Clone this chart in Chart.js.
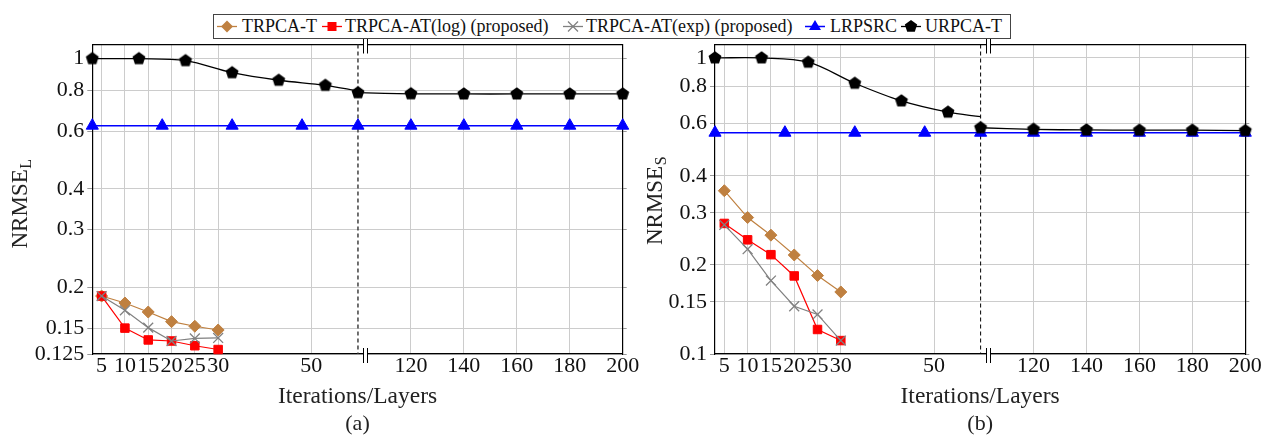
<!DOCTYPE html>
<html>
<head>
<meta charset="utf-8">
<script src="https://cdn.jsdelivr.net/npm/chart.js@4.4.1/dist/chart.umd.min.js"></script>
<style>
  html, body { margin:0; padding:0; background:#fff; }
  #wrap { position:relative; width:1261px; height:436px; overflow:hidden; background:#fff;
          font-family:"Liberation Serif","Times New Roman",serif; color:#111; }
  canvas { position:absolute; top:0; }
  #ca { left:0; }
  #cb { left:630px; }
  #legend { position:absolute; left:213px; top:14px; width:798px; height:25px; box-sizing:border-box;
            border:1px solid #444; background:#fff; z-index:5; }
  #legend .mk { position:absolute; top:0; width:24px; height:23px; }
  #legend .tx { position:absolute; top:0; height:23px; line-height:23px; font-size:18px; white-space:nowrap; color:#111; }
</style>
</head>
<body>
<div id="wrap">
  <canvas id="ca" width="648" height="436"></canvas>
  <canvas id="cb" width="631" height="436"></canvas>
  <div id="legend"></div>
</div>
<script>
// ---------------- data ----------------
const seriesNames = ['TRPCA-T', 'TRPCA-AT(log) (proposed)', 'TRPCA-AT(exp) (proposed)', 'LRPSRC', 'URPCA-T'];
const xTickValues = [5, 10, 15, 20, 25, 30, 50, 120, 140, 160, 180, 200];
const iterations  = [5, 10, 15, 20, 25, 30];
const lrpsrcX     = [3, 18, 33, 48, 100, 120, 140, 160, 180, 200];
const urpcaLeftX  = [3, 13, 23, 33, 43, 53, 60];
const urpcaRightX = [100, 120, 140, 160, 180, 200];
const yTicksA = [0.125, 0.15, 0.2, 0.3, 0.4, 0.6, 0.8, 1];
const yTicksB = [0.1, 0.15, 0.2, 0.3, 0.4, 0.6, 0.8, 1];

// panel (a): NRMSE_L
const a_trpcaT     = [0.188, 0.179, 0.168, 0.157, 0.152, 0.148];
const a_atLog      = [0.188, 0.150, 0.138, 0.137, 0.1325, 0.129];
const a_atExp      = [0.188, 0.170, 0.1505, 0.137, 0.1395, 0.140];
const a_lrpsrc     = [0.624, 0.624, 0.624, 0.624, 0.624, 0.624, 0.624, 0.624, 0.624, 0.624];
const a_urpcaLeft  = [1.0, 1.0, 0.986, 0.906, 0.859, 0.829, 0.797];
const a_urpcaRight = [0.787, 0.781, 0.780, 0.780, 0.780, 0.780];

// panel (b): NRMSE_S
const b_trpcaT     = [0.356, 0.289, 0.252, 0.216, 0.184, 0.162];
const b_atLog      = [0.276, 0.243, 0.2165, 0.1835, 0.121, 0.111];
const b_atExp      = [0.273, 0.226, 0.177, 0.145, 0.136, 0.111];
const b_lrpsrc     = [0.559, 0.559, 0.559, 0.559, 0.559, 0.559, 0.559, 0.559, 0.559, 0.559];
const b_urpcaLeft  = [1.0, 1.0, 0.967, 0.821, 0.716, 0.656, 0.633];
const b_urpcaRight = [0.581, 0.574, 0.571, 0.570, 0.570, 0.568];

// ---------------- broken x axis mapping ----------------
const BREAK_FROM = 60, BREAK_TO = 100, RIGHT_FACTOR = 0.568;
function vx(x) { return x <= BREAK_FROM ? x : BREAK_FROM + (x - BREAK_TO) * RIGHT_FACTOR; }
const X_MIN = 3, X_MAX = vx(200);

const FONT = '"Liberation Serif", "Times New Roman", serif';
const BROWN = 'rgb(191,128,64)', RED = '#ff0000', GRAY = '#808080', BLUE = '#0000ff', BLACK = '#000000';
const GRID = '#cccccc';
Chart.defaults.font.family = FONT;

function makePentagon(r) {
  const s = 16;
  const c = document.createElement('canvas');
  c.width = s; c.height = s;
  const g = c.getContext('2d');
  g.fillStyle = '#000';
  g.beginPath();
  for (let k = 0; k < 5; k++) {
    const a = -Math.PI / 2 + k * 2 * Math.PI / 5;
    const px = s / 2 + r * Math.cos(a), py = s / 2 + r * Math.sin(a);
    if (k) g.lineTo(px, py); else g.moveTo(px, py);
  }
  g.closePath(); g.fill();
  return c;
}
const pentagon = makePentagon(6.8);

function pts(xs, ys) { return xs.map((x, i) => ({ x: vx(x), y: ys[i] })); }

const decoPlugin = {
  id: 'deco',
  beforeDatasetsDraw(chart, args, o) {
    const ctx = chart.ctx, a = chart.chartArea;
    const xs = chart.scales.x.getPixelForValue(vx(BREAK_FROM));
    ctx.save();
    ctx.strokeStyle = o.dashColor; ctx.lineWidth = o.dashWidth;
    ctx.setLineDash([4, 3]);
    ctx.beginPath(); ctx.moveTo(xs, a.top); ctx.lineTo(xs, a.bottom); ctx.stroke();
    ctx.restore();
  },
  afterDraw(chart, args, o) {
    const ctx = chart.ctx, a = chart.chartArea;
    const xs = chart.scales.x.getPixelForValue(vx(BREAK_FROM));
    ctx.save();
    [a.top, a.bottom].forEach(yy => {
      ctx.fillStyle = '#fff';
      ctx.fillRect(Math.round(xs + 5) + 1, yy - 2, 3, 4);
      ctx.strokeStyle = '#000'; ctx.lineWidth = 1;
      [5, 9].forEach(dx => {
        const px = Math.round(xs + dx) + 0.5;
        ctx.beginPath(); ctx.moveTo(px, yy - 6); ctx.lineTo(px, yy + 9); ctx.stroke();
      });
    });
    // y-axis title with subscript
    ctx.translate(o.titleX, o.titleY);
    ctx.rotate(-Math.PI / 2);
    ctx.fillStyle = '#222';
    ctx.textBaseline = 'alphabetic';
    ctx.font = '23px ' + FONT;
    const w1 = ctx.measureText('NRMSE').width;
    ctx.font = '16px ' + FONT;
    const w2 = ctx.measureText(o.sub).width;
    const x0 = -(w1 + w2) / 2;
    ctx.font = '23px ' + FONT;
    ctx.fillText('NRMSE', x0, 0);
    ctx.font = '16px ' + FONT;
    ctx.fillText(o.sub, x0 + w1 + 0.5, 4);
    ctx.restore();
  }
};

function makePanel(id, p) {
  const urpcaData = pts(urpcaLeftX, p.urpcaLeft)
    .concat([{ x: vx(BREAK_FROM), y: null }], pts(urpcaRightX, p.urpcaRight));
  const urpcaRadius = urpcaData.map((d, i) => (i === urpcaLeftX.length - 1 || d.y === null) ? 0 : 7);
  const common = { clip: false, borderWidth: 1.2, pointBorderWidth: 1, tension: 0, spanGaps: false };
  const datasets = [
    { ...common, label: seriesNames[0], data: pts(iterations, p.trpcaT), borderColor: BROWN, backgroundColor: BROWN,
      pointStyle: 'rectRot', pointRadius: 6, order: 5 },
    { ...common, label: seriesNames[1], data: pts(iterations, p.atLog), borderColor: RED, backgroundColor: RED,
      pointStyle: 'rect', pointRadius: 6, order: 4 },
    { ...common, label: seriesNames[2], data: pts(iterations, p.atExp), borderColor: GRAY, backgroundColor: GRAY,
      pointStyle: 'crossRot', pointRadius: 7, pointBorderWidth: 1.3, order: 3 },
    { ...common, label: seriesNames[3], data: pts(lrpsrcX, p.lrpsrc), borderColor: BLUE, backgroundColor: BLUE,
      pointStyle: 'triangle', pointRadius: 7, borderWidth: 1.5, order: 2 },
    { ...common, label: seriesNames[4], data: urpcaData, borderColor: BLACK, backgroundColor: BLACK,
      pointStyle: pentagon, pointRadius: urpcaRadius, tension: 0.35, borderWidth: 1.3, order: 1 }
  ];
  const tickFont = { family: FONT, size: 22, lineHeight: 1.1 };
  const xTicks = s => { s.ticks = xTickValues.map(v => ({ value: vx(v) })); };
  const yTicks = s => { s.ticks = p.yTicks.map(v => ({ value: v })); };
  return new Chart(document.getElementById(id), {
    type: 'line',
    data: { datasets },
    plugins: [decoPlugin],
    options: {
      responsive: false, devicePixelRatio: 1, animation: false, events: [],
      layout: { padding: { top: 44.5, left: 0, right: 0, bottom: 0 } },
      plugins: {
        legend: { display: false },
        tooltip: { enabled: false },
        title: { display: true, text: p.caption, position: 'bottom', fullSize: false, color: '#222',
                 font: { family: FONT, size: 22, lineHeight: 1.1, weight: 'normal' }, padding: { top: 0, bottom: 0 } },
        deco: { titleX: p.titleX, titleY: p.titleY, sub: p.sub, dashWidth: p.dashWidth, dashColor: p.dashColor }
      },
      scales: {
        x: {
          type: 'linear', position: 'bottom', min: X_MIN, max: X_MAX,
          afterBuildTicks: xTicks,
          afterFit: s => { s.height = 57.8; s.paddingLeft = 0; s.paddingRight = 0; },
          ticks: { autoSkip: false, maxRotation: 0, minRotation: 0, padding: 0, color: '#111', font: tickFont,
                   callback: (v, i) => String(xTickValues[i]) },
          grid: { color: GRID, lineWidth: 1, drawTicks: false },
          border: { color: '#000', width: 1.2 },
          title: { display: true, text: 'Iterations/Layers', color: '#222',
                   font: { family: FONT, size: 23.5, lineHeight: 1.1 }, padding: { top: 0, bottom: 2 } }
        },
        x2: {
          axis: 'x', type: 'linear', position: 'top', min: X_MIN, max: X_MAX,
          afterBuildTicks: xTicks,
          afterFit: s => { s.height = 0; s.paddingLeft = 0; s.paddingRight = 0; },
          ticks: { display: false },
          grid: { drawOnChartArea: false, drawTicks: false },
          border: { color: '#000', width: 1.2 }
        },
        y: {
          type: 'logarithmic', position: 'left', min: p.yMin, max: p.yMax,
          afterBuildTicks: yTicks,
          afterFit: s => { s.width = p.yAxisWidth; s.paddingTop = 0; s.paddingBottom = 0; },
          ticks: { autoSkip: false, padding: 3, color: '#111', font: tickFont, callback: v => String(v) },
          grid: { color: GRID, lineWidth: 1, tickColor: '#999', tickLength: 5 },
          border: { color: '#000', width: 1.2 }
        },
        y2: {
          axis: 'y', type: 'logarithmic', position: 'right', min: p.yMin, max: p.yMax,
          afterBuildTicks: yTicks,
          afterFit: s => { s.width = p.y2Width; s.paddingTop = 0; s.paddingBottom = 0; },
          ticks: { display: false },
          grid: { drawOnChartArea: false, color: '#999', tickLength: 4 },
          border: { color: '#000', width: 1.2 }
        }
      }
    }
  });
}

makePanel('ca', {
  trpcaT: a_trpcaT, atLog: a_atLog, atExp: a_atExp, lrpsrc: a_lrpsrc,
  urpcaLeft: a_urpcaLeft, urpcaRight: a_urpcaRight,
  yMin: 0.125, yMax: 1.105, yTicks: yTicksA,
  yAxisWidth: 92.3, y2Width: 648 - 622.7,
  caption: '(a)', sub: 'L', titleX: 27, titleY: 204, dashWidth: 1.4, dashColor: '#333'
});
makePanel('cb', {
  trpcaT: b_trpcaT, atLog: b_atLog, atExp: b_atExp, lrpsrc: b_lrpsrc,
  urpcaLeft: b_urpcaLeft, urpcaRight: b_urpcaRight,
  yMin: 0.1, yMax: 1.11, yTicks: yTicksB,
  yAxisWidth: 85, y2Width: 631 - 615.3,
  caption: '(b)', sub: 'S', titleX: 32, titleY: 201, dashWidth: 1, dashColor: '#000'
});

// ---------------- legend (HTML) ----------------
(function buildLegend() {
  const lg = document.getElementById('legend');
  const markerCenters = [13, 118, 359, 601, 697];
  const textLefts = [28, 131, 372, 616, 711];
  const pent = (() => {
    const r = 6.5, cx = 12, cy = 11.5; const p = [];
    for (let k = 0; k < 5; k++) { const a = -Math.PI / 2 + k * 2 * Math.PI / 5; p.push((cx + r * Math.cos(a)).toFixed(2) + ',' + (cy + r * Math.sin(a)).toFixed(2)); }
    return p.join(' ');
  })();
  const shapes = [
    `<line x1="2" y1="11.5" x2="22" y2="11.5" stroke="${BROWN}" stroke-width="1.3"/><polygon points="12,5.5 18,11.5 12,17.5 6,11.5" fill="${BROWN}"/>`,
    `<line x1="2" y1="11.5" x2="22" y2="11.5" stroke="${RED}" stroke-width="1.3"/><rect x="7.5" y="7" width="9" height="9" fill="${RED}"/>`,
    `<line x1="2" y1="11.5" x2="22" y2="11.5" stroke="${GRAY}" stroke-width="1.3"/><line x1="7" y1="6.5" x2="17" y2="16.5" stroke="${GRAY}" stroke-width="1.3"/><line x1="7" y1="16.5" x2="17" y2="6.5" stroke="${GRAY}" stroke-width="1.3"/>`,
    `<line x1="2" y1="11.5" x2="22" y2="11.5" stroke="${BLUE}" stroke-width="1.5"/><polygon points="12,5 18,15 6,15" fill="${BLUE}"/>`,
    `<line x1="2" y1="11.5" x2="22" y2="11.5" stroke="${BLACK}" stroke-width="1.3"/><polygon points="${pent}" fill="#000"/>`
  ];
  seriesNames.forEach((name, i) => {
    const mk = document.createElement('div');
    mk.className = 'mk';
    mk.style.left = (markerCenters[i] - 12) + 'px';
    mk.innerHTML = `<svg width="24" height="23" viewBox="0 0 24 23">${shapes[i]}</svg>`;
    lg.appendChild(mk);
    const tx = document.createElement('span');
    tx.className = 'tx';
    tx.style.left = textLefts[i] + 'px';
    tx.textContent = name;
    lg.appendChild(tx);
  });
})();
</script>
</body>
</html>
